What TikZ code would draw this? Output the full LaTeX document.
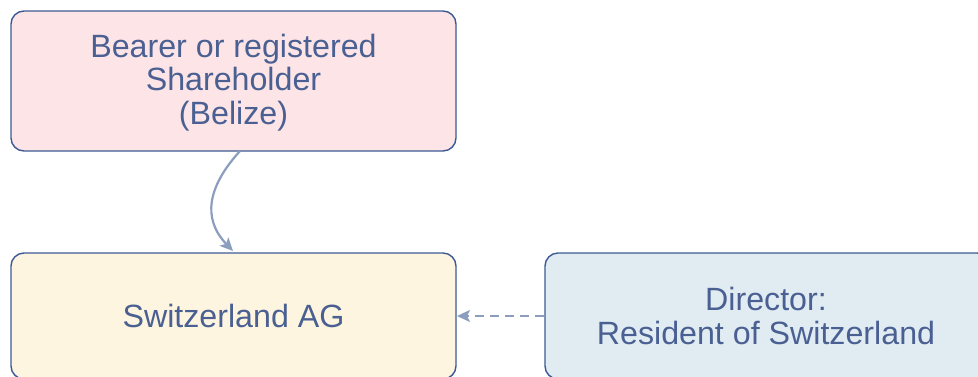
\documentclass[tikz,border=0pt]{standalone}
\usepackage{fontspec}
\setmainfont{Liberation Sans}
\usetikzlibrary{arrows.meta}
\definecolor{edge}{HTML}{3D5A94}
\definecolor{txt}{HTML}{4A6092}
\definecolor{conn}{HTML}{8B9EBD}
\definecolor{pinkf}{HTML}{FCE4E7}
\definecolor{yellowf}{HTML}{FEF5E0}
\definecolor{bluef}{HTML}{E0EBF2}
\tikzset{
  box/.style={draw=edge, line width=1.4pt, rounded corners=13pt, inner sep=0pt,
    text=txt, align=center, font=\fontsize{32.2}{33.5}\selectfont},
  lbl/.style={text=txt, align=center, font=\fontsize{32.2}{33.5}\selectfont},
  conarrow/.style={draw=conn, line width=2.2pt, -{Stealth[length=13pt,width=12pt,inset=3pt]}}
}
\begin{document}
\begin{tikzpicture}[x=1pt,y=-1pt]
\useasboundingbox (0,0) rectangle (978,376);
\clip (0,0) rectangle (978,376);
\node[box, fill=pinkf, minimum width=445pt, minimum height=140pt] (sh) at (233.5,81) {};
\node[lbl] (sht) at (233.5,82.5) {Bearer or registered\\Shareholder\\(Belize)};
\node[box, fill=yellowf, minimum width=445pt, minimum height=126pt] (ag) at (233.5,316) {};
\node[lbl] (agt) at (233.5,316) {Switzerland AG};
\node[box, fill=bluef, minimum width=445pt, minimum height=126pt] (dir) at (767.5,316) {};
\node[lbl] (dirt) at (766,316) {Director:\\Resident of Switzerland};
\coordinate (s1) at (240,151);
\coordinate (e1) at (233,251);
\draw[conarrow] (s1) .. controls (200,195) and (208,225) .. (e1);
\coordinate (s2) at (544,316);
\coordinate (e2) at (457,316);
\draw[conarrow, dash pattern=on 9pt off 6pt] (s2) -- (e2);
\end{tikzpicture}
\end{document}
